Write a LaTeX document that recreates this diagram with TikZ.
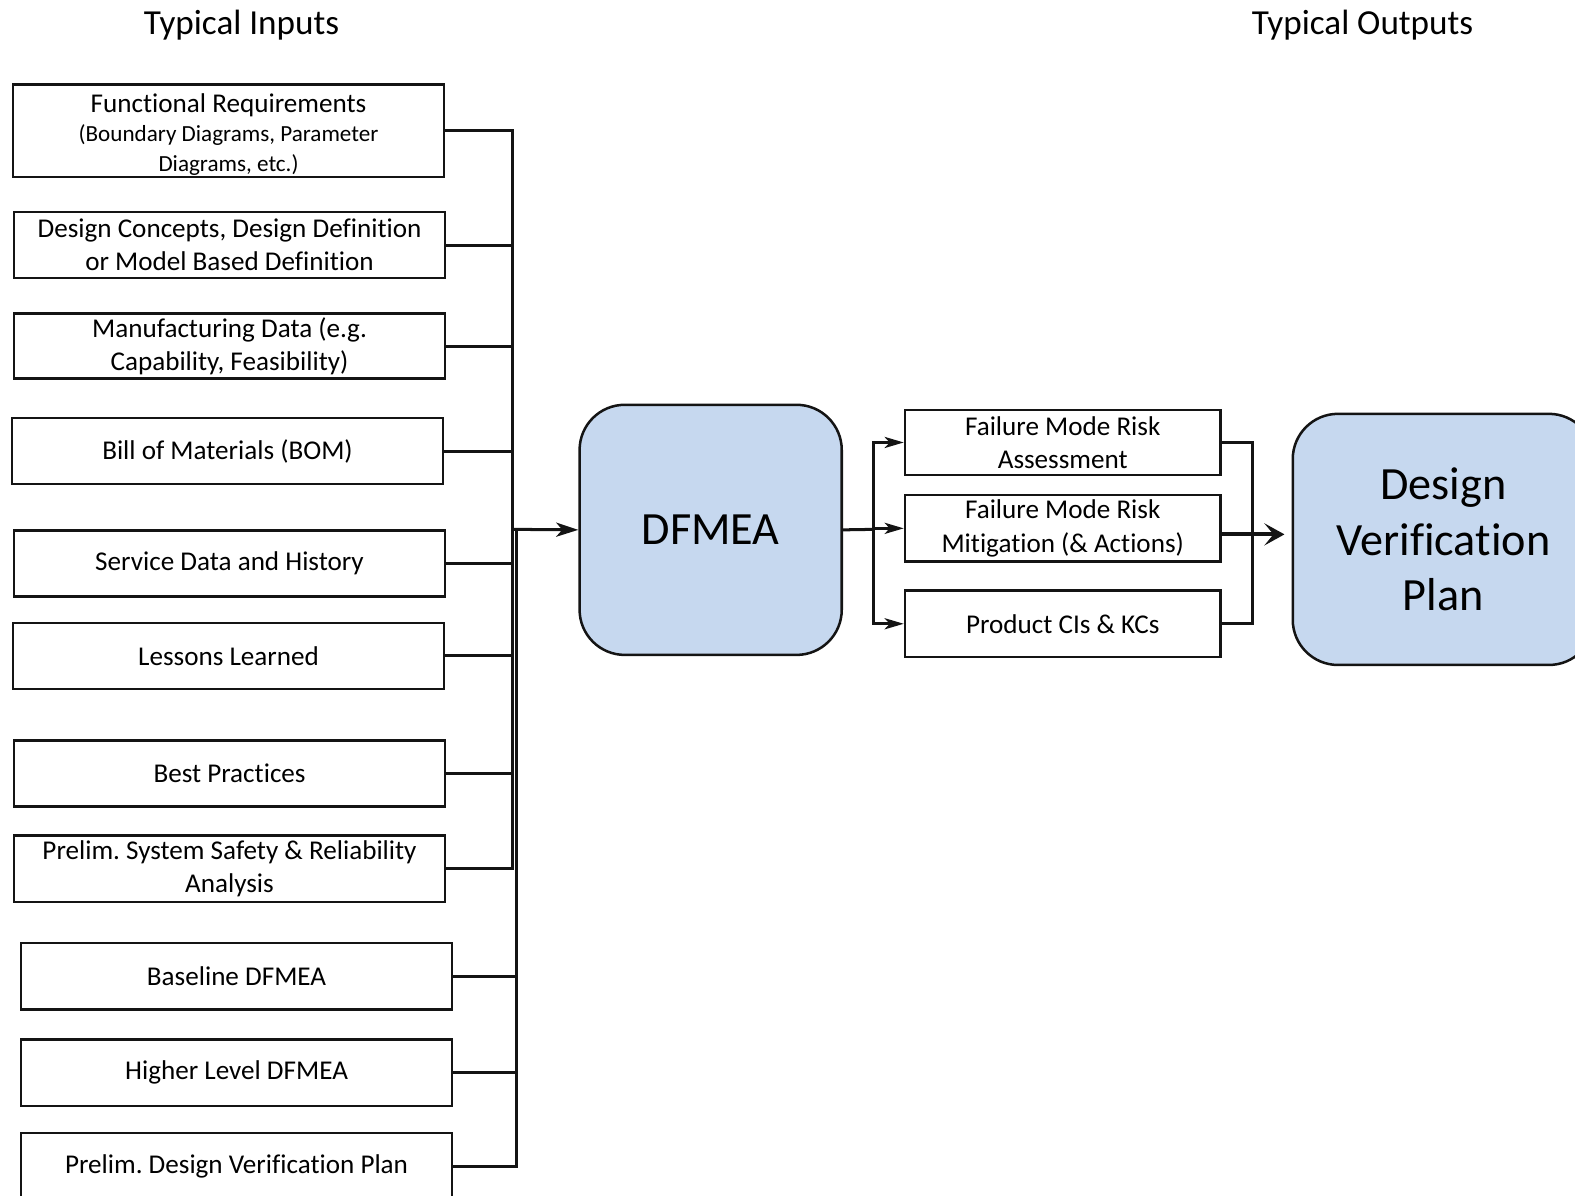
\documentclass[tikz,border=0pt]{standalone}
\usepackage{fontspec}
\setmainfont{Carlito}[Ligatures=NoCommon]
\usetikzlibrary{arrows.meta}
\definecolor{boxblue}{HTML}{C6D8EF}
\definecolor{ink}{HTML}{141414}
\frenchspacing

\begin{document}
\begin{tikzpicture}[x=1pt,y=-1pt,
  inbox/.style={draw=ink, line width=2.5pt, minimum width=429pt, minimum height=66pt,
    inner sep=0pt, align=center, font=\fontsize{27}{33}\selectfont},
  outbox/.style={inbox, minimum width=314pt},
  bigbox/.style={draw=ink, line width=2.5pt, fill=boxblue, rounded corners=45pt,
    inner sep=0pt, align=center, font=\fontsize{46}{55}\selectfont},
  title/.style={font=\fontsize{35}{42}\selectfont, anchor=base},
  feed/.style={draw=ink, line width=3pt},
  tipin/.style={feed, -{Stealth[length=22pt,width=14pt,inset=6pt]}},
  tipout/.style={feed, -{Stealth[length=19pt,width=11pt,inset=5pt]}},
  heavy/.style={draw=ink, line width=4pt, -{Stealth[length=20pt,width=22pt,inset=9pt]}, shorten >=7pt}
]
\useasboundingbox (0,0) rectangle (1568,1190);
\clip (0,0) rectangle (1568,1190);

% column headings
\node[title] (tin)  at (240.5,34)  {Typical Inputs};
\node[title] (tout) at (1356.5,34) {Typical Outputs};

% inputs
\node[inbox, minimum height=92pt] (in1) at (227.5,130)
  {\rule{0pt}{27pt}Functional Requirements\\[-4pt]
   {\fontsize{23}{28}\selectfont (Boundary Diagrams, Parameter}\\[-3pt]
   {\fontsize{23}{28}\selectfont Diagrams, etc.)}};
\node[inbox] (in2)  at (228.5,244)   {Design Concepts, Design Definition\\or Model Based Definition};
\node[inbox, minimum height=65pt] (in3) at (228.5,344.5) {Manufacturing Data (e.g.\\Capability, Feasibility)};
\node[inbox] (in4)  at (226.5,449)   {Bill of Materials (BOM)};
\node[inbox] (in5)  at (228.5,561)   {Service Data and History};
\node[inbox] (in6)  at (227.5,653)   {Lessons Learned};
\node[inbox] (in7)  at (228.5,770)   {Best Practices};
\node[inbox] (in8)  at (228.5,865)   {Prelim. System Safety \& Reliability\\Analysis};
\node[inbox] (in9)  at (235.5,972)   {Baseline DFMEA};
\node[inbox] (in10) at (235.5,1068)  {Higher Level DFMEA};
\node[inbox] (in11) at (235.5,1161)  {Prelim. Design Verification Plan};

% central analysis
\node[bigbox, minimum width=261pt, minimum height=249pt] (dfmea) at (707.5,527.5) {DFMEA};

% outputs
\node[outbox, minimum height=65pt] (o1) at (1058,440.5) {Failure Mode Risk\\Assessment};
\node[outbox] (o2) at (1058,526) {Failure Mode Risk\\Mitigation (\& Actions)};
\node[outbox] (o3) at (1058,621) {Product CIs \& KCs};

\node[bigbox, minimum width=300pt, minimum height=250pt] (dvp) at (1437,537)
  {Design\\Verification\\Plan};

% input collection bus
\coordinate (busA) at (510,527);
\coordinate (busB) at (514,527);
\foreach \n in {1,...,8} { \draw[feed] (in\n.east) -| (busA); }
\foreach \n in {9,10,11} { \draw[feed] (in\n.east) -| (busB); }
\draw[tipin] (busA) -- (dfmea.west);

% output distribution
\coordinate (split) at (870,527);
\draw[feed] (dfmea.east) -- (split);
\draw[tipout] (split) |- (o1.west);
\draw[tipout] (split) |- (o2.west);
\draw[tipout] (split) |- (o3.west);

% merge into verification plan
\coordinate (merge) at (1247,532);
\draw[feed] (o1.east) -| (merge);
\draw[feed] (o3.east) -| (merge);
\draw[heavy] (o2.east |- merge) -- (dvp.west |- merge);
\end{tikzpicture}
\end{document}
